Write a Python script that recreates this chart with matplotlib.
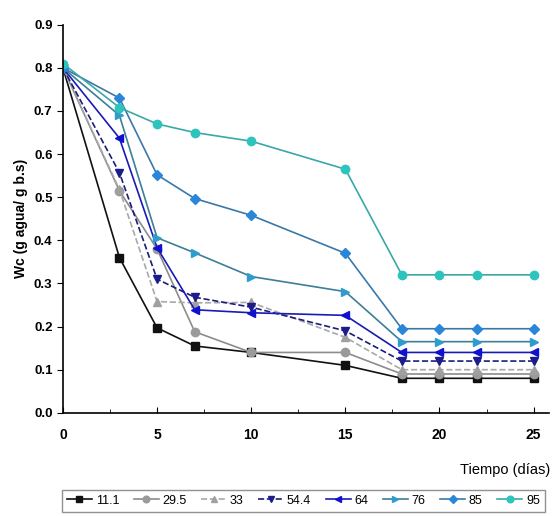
import matplotlib
matplotlib.use("Agg")
import matplotlib.pyplot as plt
from matplotlib.ticker import MultipleLocator

plt.rcParams["font.family"] = ["Liberation Sans Narrow", "Liberation Sans", "DejaVu Sans"]

# days of drying
dias = [0, 3, 5, 7, 10, 15, 18, 20, 22, 25]

# water content for each relative humidity (%)
wc_11_1 = [0.80, 0.36, 0.197, 0.155, 0.140, 0.110, 0.080, 0.080, 0.080, 0.080]
wc_29_5 = [0.80, 0.515, 0.38, 0.188, 0.140, 0.140, 0.090, 0.090, 0.090, 0.090]
wc_33 = [0.80, 0.518, 0.258, 0.255, 0.256, 0.175, 0.100, 0.100, 0.100, 0.100]
wc_54_4 = [0.80, 0.557, 0.310, 0.268, 0.245, 0.190, 0.120, 0.120, 0.120, 0.120]
wc_64 = [0.80, 0.637, 0.383, 0.239, 0.232, 0.226, 0.140, 0.140, 0.140, 0.140]
wc_76 = [0.80, 0.690, 0.406, 0.371, 0.316, 0.281, 0.165, 0.165, 0.165, 0.165]
wc_85 = [0.80, 0.730, 0.552, 0.497, 0.458, 0.370, 0.195, 0.195, 0.195, 0.195]
wc_95 = [0.81, 0.708, 0.670, 0.650, 0.630, 0.565, 0.320, 0.320, 0.320, 0.320]

labels = ["11.1", "29.5", "33", "54.4", "64", "76", "85", "95"]
series = [wc_11_1, wc_29_5, wc_33, wc_54_4, wc_64, wc_76, wc_85, wc_95]

# line colour, marker colour, marker, linestyle
styles = [
    ("#111111", "#111111", "s", "-"),
    ("#8c8c8c", "#9a9a9a", "o", "-"),
    ("#a8a8a8", "#a0a0a0", "^", "--"),
    ("#1c1c7a", "#1c1c8a", "v", "--"),
    ("#1a1ab4", "#1010d0", "<", "-"),
    ("#3c7f96", "#2e9ccc", ">", "-"),
    ("#3a78a8", "#2a86d8", "D", "-"),
    ("#3aa8a8", "#2cc4bc", "o", "-"),
]

fig = plt.figure(figsize=(5.52, 5.16), dpi=100)
ax = fig.add_axes([0.114, 0.2, 0.88, 0.752])

for lab, ys, (lc, mc, mk, ls) in zip(labels, series, styles):
    ms = 5 if mk == "D" else 6
    ax.plot(dias, ys, color=lc, linestyle=ls, linewidth=1.2, marker=mk,
            markersize=ms, markerfacecolor=mc, markeredgecolor=mc, label=lab)

ax.set_xlim(0, 25.8)
ax.set_ylim(0, 0.9)
ax.xaxis.set_major_locator(MultipleLocator(5))
ax.xaxis.set_minor_locator(MultipleLocator(2.5))
ax.yaxis.set_major_locator(MultipleLocator(0.1))
ax.set_yticklabels([f"{v:.1f}" for v in ax.get_yticks()])
ax.spines["top"].set_visible(False)
ax.spines["right"].set_visible(False)
ax.spines["left"].set_linewidth(1.2)
ax.spines["bottom"].set_linewidth(1.2)
ax.tick_params(axis="x", direction="in", length=4, labelsize=10, pad=11)
ax.tick_params(axis="x", which="minor", direction="in", length=3)
ax.tick_params(axis="y", direction="out", length=4, labelsize=9.5)
for t in ax.get_xticklabels() + ax.get_yticklabels():
    t.set_fontweight("bold")

ax.set_ylabel("Wc (g agua/ g b.s)", fontsize=10, fontweight="bold")
fig.text(0.997, 0.075, "Tiempo (días)", ha="right", va="bottom", fontsize=10.5)

fig.legend(loc="lower left", bbox_to_anchor=(0.112, 0.008, 0.875, 0.055),
           mode="expand", ncol=8, fontsize=9, frameon=True, fancybox=False,
           edgecolor="#777777", handlelength=2.0, handletextpad=0.3,
           columnspacing=0.6, borderaxespad=0, markerscale=0.8)

fig.savefig("out.png", dpi=100)
